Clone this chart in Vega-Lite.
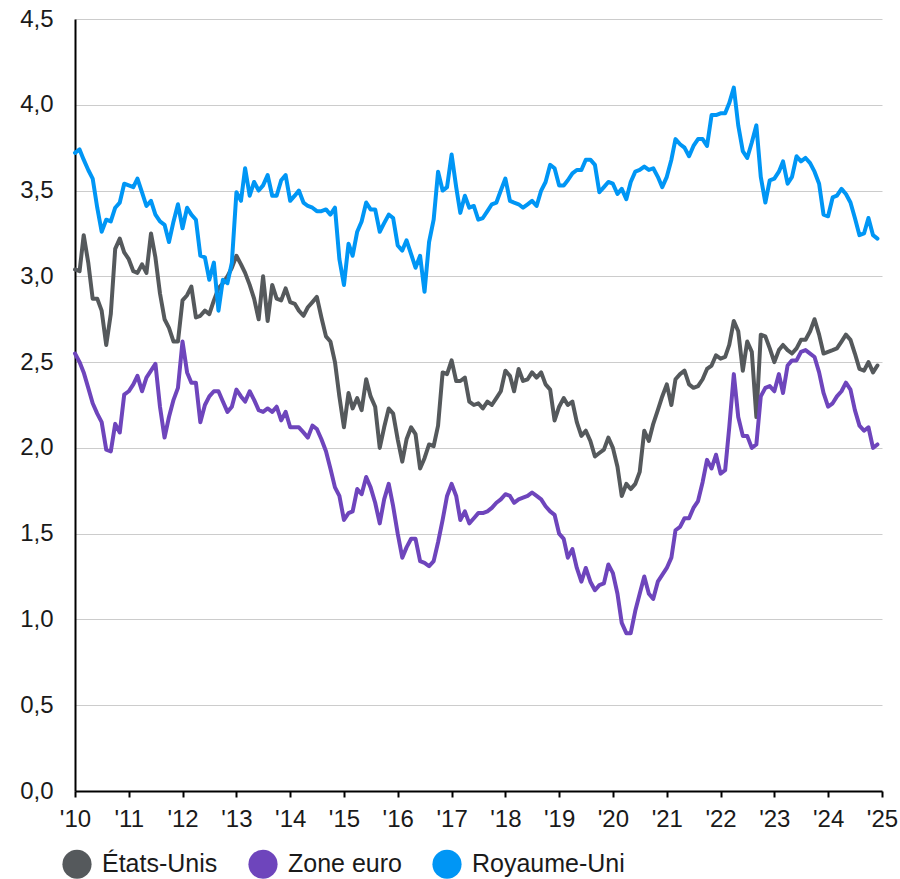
{
"$schema":"https://vega.github.io/schema/vega-lite/v6.json",
"width":807,"height":772,
"autosize":{"type":"none"},
"padding":{"left":75,"top":19,"right":18,"bottom":88},
"config":{"view":{"stroke":null},"font":"Liberation Sans"},
"data":{"values":[
{"d":"2010-01-01","p":"États-Unis","v":3.04},{"d":"2010-02-01","p":"États-Unis","v":3.03},{"d":"2010-03-01","p":"États-Unis","v":3.24},{"d":"2010-04-01","p":"États-Unis","v":3.08},{"d":"2010-05-01","p":"États-Unis","v":2.87},{"d":"2010-06-01","p":"États-Unis","v":2.87},{"d":"2010-07-01","p":"États-Unis","v":2.80},{"d":"2010-08-01","p":"États-Unis","v":2.60},{"d":"2010-09-01","p":"États-Unis","v":2.78},{"d":"2010-10-01","p":"États-Unis","v":3.16},{"d":"2010-11-01","p":"États-Unis","v":3.22},{"d":"2010-12-01","p":"États-Unis","v":3.14},
{"d":"2011-01-01","p":"États-Unis","v":3.10},{"d":"2011-02-01","p":"États-Unis","v":3.03},{"d":"2011-03-01","p":"États-Unis","v":3.02},{"d":"2011-04-01","p":"États-Unis","v":3.07},{"d":"2011-05-01","p":"États-Unis","v":3.02},{"d":"2011-06-01","p":"États-Unis","v":3.25},{"d":"2011-07-01","p":"États-Unis","v":3.11},{"d":"2011-08-01","p":"États-Unis","v":2.90},{"d":"2011-09-01","p":"États-Unis","v":2.75},{"d":"2011-10-01","p":"États-Unis","v":2.70},{"d":"2011-11-01","p":"États-Unis","v":2.62},{"d":"2011-12-01","p":"États-Unis","v":2.62},
{"d":"2012-01-01","p":"États-Unis","v":2.86},{"d":"2012-02-01","p":"États-Unis","v":2.89},{"d":"2012-03-01","p":"États-Unis","v":2.94},{"d":"2012-04-01","p":"États-Unis","v":2.76},{"d":"2012-05-01","p":"États-Unis","v":2.77},{"d":"2012-06-01","p":"États-Unis","v":2.80},{"d":"2012-07-01","p":"États-Unis","v":2.78},{"d":"2012-08-01","p":"États-Unis","v":2.86},{"d":"2012-09-01","p":"États-Unis","v":2.93},{"d":"2012-10-01","p":"États-Unis","v":2.96},{"d":"2012-11-01","p":"États-Unis","v":3.00},{"d":"2012-12-01","p":"États-Unis","v":3.05},
{"d":"2013-01-01","p":"États-Unis","v":3.12},{"d":"2013-02-01","p":"États-Unis","v":3.07},{"d":"2013-03-01","p":"États-Unis","v":3.02},{"d":"2013-04-01","p":"États-Unis","v":2.95},{"d":"2013-05-01","p":"États-Unis","v":2.87},{"d":"2013-06-01","p":"États-Unis","v":2.75},{"d":"2013-07-01","p":"États-Unis","v":3.00},{"d":"2013-08-01","p":"États-Unis","v":2.74},{"d":"2013-09-01","p":"États-Unis","v":2.95},{"d":"2013-10-01","p":"États-Unis","v":2.87},{"d":"2013-11-01","p":"États-Unis","v":2.86},{"d":"2013-12-01","p":"États-Unis","v":2.93},
{"d":"2014-01-01","p":"États-Unis","v":2.85},{"d":"2014-02-01","p":"États-Unis","v":2.84},{"d":"2014-03-01","p":"États-Unis","v":2.80},{"d":"2014-04-01","p":"États-Unis","v":2.77},{"d":"2014-05-01","p":"États-Unis","v":2.82},{"d":"2014-06-01","p":"États-Unis","v":2.85},{"d":"2014-07-01","p":"États-Unis","v":2.88},{"d":"2014-08-01","p":"États-Unis","v":2.76},{"d":"2014-09-01","p":"États-Unis","v":2.65},{"d":"2014-10-01","p":"États-Unis","v":2.62},{"d":"2014-11-01","p":"États-Unis","v":2.50},{"d":"2014-12-01","p":"États-Unis","v":2.30},
{"d":"2015-01-01","p":"États-Unis","v":2.12},{"d":"2015-02-01","p":"États-Unis","v":2.32},{"d":"2015-03-01","p":"États-Unis","v":2.23},{"d":"2015-04-01","p":"États-Unis","v":2.29},{"d":"2015-05-01","p":"États-Unis","v":2.22},{"d":"2015-06-01","p":"États-Unis","v":2.40},{"d":"2015-07-01","p":"États-Unis","v":2.30},{"d":"2015-08-01","p":"États-Unis","v":2.24},{"d":"2015-09-01","p":"États-Unis","v":2.00},{"d":"2015-10-01","p":"États-Unis","v":2.12},{"d":"2015-11-01","p":"États-Unis","v":2.23},{"d":"2015-12-01","p":"États-Unis","v":2.20},
{"d":"2016-01-01","p":"États-Unis","v":2.05},{"d":"2016-02-01","p":"États-Unis","v":1.92},{"d":"2016-03-01","p":"États-Unis","v":2.05},{"d":"2016-04-01","p":"États-Unis","v":2.12},{"d":"2016-05-01","p":"États-Unis","v":2.08},{"d":"2016-06-01","p":"États-Unis","v":1.88},{"d":"2016-07-01","p":"États-Unis","v":1.94},{"d":"2016-08-01","p":"États-Unis","v":2.02},{"d":"2016-09-01","p":"États-Unis","v":2.01},{"d":"2016-10-01","p":"États-Unis","v":2.13},{"d":"2016-11-01","p":"États-Unis","v":2.44},{"d":"2016-12-01","p":"États-Unis","v":2.43},
{"d":"2017-01-01","p":"États-Unis","v":2.51},{"d":"2017-02-01","p":"États-Unis","v":2.39},{"d":"2017-03-01","p":"États-Unis","v":2.39},{"d":"2017-04-01","p":"États-Unis","v":2.41},{"d":"2017-05-01","p":"États-Unis","v":2.27},{"d":"2017-06-01","p":"États-Unis","v":2.25},{"d":"2017-07-01","p":"États-Unis","v":2.26},{"d":"2017-08-01","p":"États-Unis","v":2.23},{"d":"2017-09-01","p":"États-Unis","v":2.27},{"d":"2017-10-01","p":"États-Unis","v":2.25},{"d":"2017-11-01","p":"États-Unis","v":2.29},{"d":"2017-12-01","p":"États-Unis","v":2.33},
{"d":"2018-01-01","p":"États-Unis","v":2.45},{"d":"2018-02-01","p":"États-Unis","v":2.42},{"d":"2018-03-01","p":"États-Unis","v":2.33},{"d":"2018-04-01","p":"États-Unis","v":2.46},{"d":"2018-05-01","p":"États-Unis","v":2.39},{"d":"2018-06-01","p":"États-Unis","v":2.40},{"d":"2018-07-01","p":"États-Unis","v":2.44},{"d":"2018-08-01","p":"États-Unis","v":2.41},{"d":"2018-09-01","p":"États-Unis","v":2.44},{"d":"2018-10-01","p":"États-Unis","v":2.37},{"d":"2018-11-01","p":"États-Unis","v":2.34},{"d":"2018-12-01","p":"États-Unis","v":2.16},
{"d":"2019-01-01","p":"États-Unis","v":2.24},{"d":"2019-02-01","p":"États-Unis","v":2.29},{"d":"2019-03-01","p":"États-Unis","v":2.25},{"d":"2019-04-01","p":"États-Unis","v":2.27},{"d":"2019-05-01","p":"États-Unis","v":2.15},{"d":"2019-06-01","p":"États-Unis","v":2.07},{"d":"2019-07-01","p":"États-Unis","v":2.10},{"d":"2019-08-01","p":"États-Unis","v":2.04},{"d":"2019-09-01","p":"États-Unis","v":1.95},{"d":"2019-10-01","p":"États-Unis","v":1.97},{"d":"2019-11-01","p":"États-Unis","v":1.99},{"d":"2019-12-01","p":"États-Unis","v":2.06},
{"d":"2020-01-01","p":"États-Unis","v":2.00},{"d":"2020-02-01","p":"États-Unis","v":1.89},{"d":"2020-03-01","p":"États-Unis","v":1.72},{"d":"2020-04-01","p":"États-Unis","v":1.79},{"d":"2020-05-01","p":"États-Unis","v":1.76},{"d":"2020-06-01","p":"États-Unis","v":1.79},{"d":"2020-07-01","p":"États-Unis","v":1.86},{"d":"2020-08-01","p":"États-Unis","v":2.10},{"d":"2020-09-01","p":"États-Unis","v":2.04},{"d":"2020-10-01","p":"États-Unis","v":2.14},{"d":"2020-11-01","p":"États-Unis","v":2.22},{"d":"2020-12-01","p":"États-Unis","v":2.30},
{"d":"2021-01-01","p":"États-Unis","v":2.37},{"d":"2021-02-01","p":"États-Unis","v":2.25},{"d":"2021-03-01","p":"États-Unis","v":2.40},{"d":"2021-04-01","p":"États-Unis","v":2.43},{"d":"2021-05-01","p":"États-Unis","v":2.45},{"d":"2021-06-01","p":"États-Unis","v":2.37},{"d":"2021-07-01","p":"États-Unis","v":2.35},{"d":"2021-08-01","p":"États-Unis","v":2.36},{"d":"2021-09-01","p":"États-Unis","v":2.40},{"d":"2021-10-01","p":"États-Unis","v":2.46},{"d":"2021-11-01","p":"États-Unis","v":2.48},{"d":"2021-12-01","p":"États-Unis","v":2.54},
{"d":"2022-01-01","p":"États-Unis","v":2.52},{"d":"2022-02-01","p":"États-Unis","v":2.53},{"d":"2022-03-01","p":"États-Unis","v":2.60},{"d":"2022-04-01","p":"États-Unis","v":2.74},{"d":"2022-05-01","p":"États-Unis","v":2.68},{"d":"2022-06-01","p":"États-Unis","v":2.45},{"d":"2022-07-01","p":"États-Unis","v":2.62},{"d":"2022-08-01","p":"États-Unis","v":2.56},{"d":"2022-09-01","p":"États-Unis","v":2.18},{"d":"2022-10-01","p":"États-Unis","v":2.66},{"d":"2022-11-01","p":"États-Unis","v":2.65},{"d":"2022-12-01","p":"États-Unis","v":2.58},
{"d":"2023-01-01","p":"États-Unis","v":2.50},{"d":"2023-02-01","p":"États-Unis","v":2.57},{"d":"2023-03-01","p":"États-Unis","v":2.60},{"d":"2023-04-01","p":"États-Unis","v":2.57},{"d":"2023-05-01","p":"États-Unis","v":2.55},{"d":"2023-06-01","p":"États-Unis","v":2.58},{"d":"2023-07-01","p":"États-Unis","v":2.63},{"d":"2023-08-01","p":"États-Unis","v":2.63},{"d":"2023-09-01","p":"États-Unis","v":2.68},{"d":"2023-10-01","p":"États-Unis","v":2.75},{"d":"2023-11-01","p":"États-Unis","v":2.66},{"d":"2023-12-01","p":"États-Unis","v":2.55},
{"d":"2024-01-01","p":"États-Unis","v":2.56},{"d":"2024-02-01","p":"États-Unis","v":2.57},{"d":"2024-03-01","p":"États-Unis","v":2.58},{"d":"2024-04-01","p":"États-Unis","v":2.62},{"d":"2024-05-01","p":"États-Unis","v":2.66},{"d":"2024-06-01","p":"États-Unis","v":2.63},{"d":"2024-07-01","p":"États-Unis","v":2.55},{"d":"2024-08-01","p":"États-Unis","v":2.46},{"d":"2024-09-01","p":"États-Unis","v":2.45},{"d":"2024-10-01","p":"États-Unis","v":2.50},{"d":"2024-11-01","p":"États-Unis","v":2.44},{"d":"2024-12-01","p":"États-Unis","v":2.48},
{"d":"2010-01-01","p":"Zone euro","v":2.55},{"d":"2010-02-01","p":"Zone euro","v":2.50},{"d":"2010-03-01","p":"Zone euro","v":2.44},{"d":"2010-04-01","p":"Zone euro","v":2.35},{"d":"2010-05-01","p":"Zone euro","v":2.26},{"d":"2010-06-01","p":"Zone euro","v":2.20},{"d":"2010-07-01","p":"Zone euro","v":2.15},{"d":"2010-08-01","p":"Zone euro","v":1.99},{"d":"2010-09-01","p":"Zone euro","v":1.98},{"d":"2010-10-01","p":"Zone euro","v":2.14},{"d":"2010-11-01","p":"Zone euro","v":2.09},{"d":"2010-12-01","p":"Zone euro","v":2.31},
{"d":"2011-01-01","p":"Zone euro","v":2.33},{"d":"2011-02-01","p":"Zone euro","v":2.37},{"d":"2011-03-01","p":"Zone euro","v":2.42},{"d":"2011-04-01","p":"Zone euro","v":2.33},{"d":"2011-05-01","p":"Zone euro","v":2.41},{"d":"2011-06-01","p":"Zone euro","v":2.45},{"d":"2011-07-01","p":"Zone euro","v":2.49},{"d":"2011-08-01","p":"Zone euro","v":2.24},{"d":"2011-09-01","p":"Zone euro","v":2.06},{"d":"2011-10-01","p":"Zone euro","v":2.18},{"d":"2011-11-01","p":"Zone euro","v":2.28},{"d":"2011-12-01","p":"Zone euro","v":2.35},
{"d":"2012-01-01","p":"Zone euro","v":2.62},{"d":"2012-02-01","p":"Zone euro","v":2.44},{"d":"2012-03-01","p":"Zone euro","v":2.38},{"d":"2012-04-01","p":"Zone euro","v":2.38},{"d":"2012-05-01","p":"Zone euro","v":2.15},{"d":"2012-06-01","p":"Zone euro","v":2.25},{"d":"2012-07-01","p":"Zone euro","v":2.30},{"d":"2012-08-01","p":"Zone euro","v":2.33},{"d":"2012-09-01","p":"Zone euro","v":2.33},{"d":"2012-10-01","p":"Zone euro","v":2.27},{"d":"2012-11-01","p":"Zone euro","v":2.21},{"d":"2012-12-01","p":"Zone euro","v":2.24},
{"d":"2013-01-01","p":"Zone euro","v":2.34},{"d":"2013-02-01","p":"Zone euro","v":2.30},{"d":"2013-03-01","p":"Zone euro","v":2.27},{"d":"2013-04-01","p":"Zone euro","v":2.33},{"d":"2013-05-01","p":"Zone euro","v":2.28},{"d":"2013-06-01","p":"Zone euro","v":2.22},{"d":"2013-07-01","p":"Zone euro","v":2.21},{"d":"2013-08-01","p":"Zone euro","v":2.23},{"d":"2013-09-01","p":"Zone euro","v":2.21},{"d":"2013-10-01","p":"Zone euro","v":2.24},{"d":"2013-11-01","p":"Zone euro","v":2.16},{"d":"2013-12-01","p":"Zone euro","v":2.21},
{"d":"2014-01-01","p":"Zone euro","v":2.12},{"d":"2014-02-01","p":"Zone euro","v":2.12},{"d":"2014-03-01","p":"Zone euro","v":2.12},{"d":"2014-04-01","p":"Zone euro","v":2.09},{"d":"2014-05-01","p":"Zone euro","v":2.06},{"d":"2014-06-01","p":"Zone euro","v":2.13},{"d":"2014-07-01","p":"Zone euro","v":2.11},{"d":"2014-08-01","p":"Zone euro","v":2.05},{"d":"2014-09-01","p":"Zone euro","v":1.98},{"d":"2014-10-01","p":"Zone euro","v":1.88},{"d":"2014-11-01","p":"Zone euro","v":1.77},{"d":"2014-12-01","p":"Zone euro","v":1.72},
{"d":"2015-01-01","p":"Zone euro","v":1.58},{"d":"2015-02-01","p":"Zone euro","v":1.62},{"d":"2015-03-01","p":"Zone euro","v":1.63},{"d":"2015-04-01","p":"Zone euro","v":1.76},{"d":"2015-05-01","p":"Zone euro","v":1.73},{"d":"2015-06-01","p":"Zone euro","v":1.83},{"d":"2015-07-01","p":"Zone euro","v":1.77},{"d":"2015-08-01","p":"Zone euro","v":1.68},{"d":"2015-09-01","p":"Zone euro","v":1.56},{"d":"2015-10-01","p":"Zone euro","v":1.70},{"d":"2015-11-01","p":"Zone euro","v":1.79},{"d":"2015-12-01","p":"Zone euro","v":1.66},
{"d":"2016-01-01","p":"Zone euro","v":1.50},{"d":"2016-02-01","p":"Zone euro","v":1.36},{"d":"2016-03-01","p":"Zone euro","v":1.42},{"d":"2016-04-01","p":"Zone euro","v":1.47},{"d":"2016-05-01","p":"Zone euro","v":1.47},{"d":"2016-06-01","p":"Zone euro","v":1.34},{"d":"2016-07-01","p":"Zone euro","v":1.33},{"d":"2016-08-01","p":"Zone euro","v":1.31},{"d":"2016-09-01","p":"Zone euro","v":1.34},{"d":"2016-10-01","p":"Zone euro","v":1.45},{"d":"2016-11-01","p":"Zone euro","v":1.58},{"d":"2016-12-01","p":"Zone euro","v":1.72},
{"d":"2017-01-01","p":"Zone euro","v":1.79},{"d":"2017-02-01","p":"Zone euro","v":1.72},{"d":"2017-03-01","p":"Zone euro","v":1.58},{"d":"2017-04-01","p":"Zone euro","v":1.63},{"d":"2017-05-01","p":"Zone euro","v":1.56},{"d":"2017-06-01","p":"Zone euro","v":1.59},{"d":"2017-07-01","p":"Zone euro","v":1.62},{"d":"2017-08-01","p":"Zone euro","v":1.62},{"d":"2017-09-01","p":"Zone euro","v":1.63},{"d":"2017-10-01","p":"Zone euro","v":1.65},{"d":"2017-11-01","p":"Zone euro","v":1.68},{"d":"2017-12-01","p":"Zone euro","v":1.70},
{"d":"2018-01-01","p":"Zone euro","v":1.73},{"d":"2018-02-01","p":"Zone euro","v":1.72},{"d":"2018-03-01","p":"Zone euro","v":1.68},{"d":"2018-04-01","p":"Zone euro","v":1.70},{"d":"2018-05-01","p":"Zone euro","v":1.71},{"d":"2018-06-01","p":"Zone euro","v":1.72},{"d":"2018-07-01","p":"Zone euro","v":1.74},{"d":"2018-08-01","p":"Zone euro","v":1.72},{"d":"2018-09-01","p":"Zone euro","v":1.70},{"d":"2018-10-01","p":"Zone euro","v":1.66},{"d":"2018-11-01","p":"Zone euro","v":1.63},{"d":"2018-12-01","p":"Zone euro","v":1.61},
{"d":"2019-01-01","p":"Zone euro","v":1.50},{"d":"2019-02-01","p":"Zone euro","v":1.47},{"d":"2019-03-01","p":"Zone euro","v":1.36},{"d":"2019-04-01","p":"Zone euro","v":1.41},{"d":"2019-05-01","p":"Zone euro","v":1.30},{"d":"2019-06-01","p":"Zone euro","v":1.22},{"d":"2019-07-01","p":"Zone euro","v":1.30},{"d":"2019-08-01","p":"Zone euro","v":1.22},{"d":"2019-09-01","p":"Zone euro","v":1.17},{"d":"2019-10-01","p":"Zone euro","v":1.20},{"d":"2019-11-01","p":"Zone euro","v":1.21},{"d":"2019-12-01","p":"Zone euro","v":1.32},
{"d":"2020-01-01","p":"Zone euro","v":1.27},{"d":"2020-02-01","p":"Zone euro","v":1.15},{"d":"2020-03-01","p":"Zone euro","v":0.98},{"d":"2020-04-01","p":"Zone euro","v":0.92},{"d":"2020-05-01","p":"Zone euro","v":0.92},{"d":"2020-06-01","p":"Zone euro","v":1.05},{"d":"2020-07-01","p":"Zone euro","v":1.15},{"d":"2020-08-01","p":"Zone euro","v":1.25},{"d":"2020-09-01","p":"Zone euro","v":1.15},{"d":"2020-10-01","p":"Zone euro","v":1.12},{"d":"2020-11-01","p":"Zone euro","v":1.22},{"d":"2020-12-01","p":"Zone euro","v":1.26},
{"d":"2021-01-01","p":"Zone euro","v":1.30},{"d":"2021-02-01","p":"Zone euro","v":1.36},{"d":"2021-03-01","p":"Zone euro","v":1.52},{"d":"2021-04-01","p":"Zone euro","v":1.54},{"d":"2021-05-01","p":"Zone euro","v":1.59},{"d":"2021-06-01","p":"Zone euro","v":1.59},{"d":"2021-07-01","p":"Zone euro","v":1.65},{"d":"2021-08-01","p":"Zone euro","v":1.69},{"d":"2021-09-01","p":"Zone euro","v":1.80},{"d":"2021-10-01","p":"Zone euro","v":1.93},{"d":"2021-11-01","p":"Zone euro","v":1.88},{"d":"2021-12-01","p":"Zone euro","v":1.96},
{"d":"2022-01-01","p":"Zone euro","v":1.85},{"d":"2022-02-01","p":"Zone euro","v":1.87},{"d":"2022-03-01","p":"Zone euro","v":2.12},{"d":"2022-04-01","p":"Zone euro","v":2.43},{"d":"2022-05-01","p":"Zone euro","v":2.18},{"d":"2022-06-01","p":"Zone euro","v":2.07},{"d":"2022-07-01","p":"Zone euro","v":2.07},{"d":"2022-08-01","p":"Zone euro","v":2.00},{"d":"2022-09-01","p":"Zone euro","v":2.02},{"d":"2022-10-01","p":"Zone euro","v":2.30},{"d":"2022-11-01","p":"Zone euro","v":2.35},{"d":"2022-12-01","p":"Zone euro","v":2.36},
{"d":"2023-01-01","p":"Zone euro","v":2.33},{"d":"2023-02-01","p":"Zone euro","v":2.43},{"d":"2023-03-01","p":"Zone euro","v":2.32},{"d":"2023-04-01","p":"Zone euro","v":2.48},{"d":"2023-05-01","p":"Zone euro","v":2.51},{"d":"2023-06-01","p":"Zone euro","v":2.51},{"d":"2023-07-01","p":"Zone euro","v":2.56},{"d":"2023-08-01","p":"Zone euro","v":2.57},{"d":"2023-09-01","p":"Zone euro","v":2.55},{"d":"2023-10-01","p":"Zone euro","v":2.53},{"d":"2023-11-01","p":"Zone euro","v":2.44},{"d":"2023-12-01","p":"Zone euro","v":2.32},
{"d":"2024-01-01","p":"Zone euro","v":2.24},{"d":"2024-02-01","p":"Zone euro","v":2.26},{"d":"2024-03-01","p":"Zone euro","v":2.30},{"d":"2024-04-01","p":"Zone euro","v":2.33},{"d":"2024-05-01","p":"Zone euro","v":2.38},{"d":"2024-06-01","p":"Zone euro","v":2.34},{"d":"2024-07-01","p":"Zone euro","v":2.22},{"d":"2024-08-01","p":"Zone euro","v":2.13},{"d":"2024-09-01","p":"Zone euro","v":2.10},{"d":"2024-10-01","p":"Zone euro","v":2.12},{"d":"2024-11-01","p":"Zone euro","v":2.00},{"d":"2024-12-01","p":"Zone euro","v":2.02},
{"d":"2010-01-01","p":"Royaume-Uni","v":3.72},{"d":"2010-02-01","p":"Royaume-Uni","v":3.74},{"d":"2010-03-01","p":"Royaume-Uni","v":3.68},{"d":"2010-04-01","p":"Royaume-Uni","v":3.62},{"d":"2010-05-01","p":"Royaume-Uni","v":3.57},{"d":"2010-06-01","p":"Royaume-Uni","v":3.40},{"d":"2010-07-01","p":"Royaume-Uni","v":3.26},{"d":"2010-08-01","p":"Royaume-Uni","v":3.33},{"d":"2010-09-01","p":"Royaume-Uni","v":3.32},{"d":"2010-10-01","p":"Royaume-Uni","v":3.40},{"d":"2010-11-01","p":"Royaume-Uni","v":3.43},{"d":"2010-12-01","p":"Royaume-Uni","v":3.54},
{"d":"2011-01-01","p":"Royaume-Uni","v":3.53},{"d":"2011-02-01","p":"Royaume-Uni","v":3.52},{"d":"2011-03-01","p":"Royaume-Uni","v":3.57},{"d":"2011-04-01","p":"Royaume-Uni","v":3.49},{"d":"2011-05-01","p":"Royaume-Uni","v":3.41},{"d":"2011-06-01","p":"Royaume-Uni","v":3.44},{"d":"2011-07-01","p":"Royaume-Uni","v":3.36},{"d":"2011-08-01","p":"Royaume-Uni","v":3.32},{"d":"2011-09-01","p":"Royaume-Uni","v":3.30},{"d":"2011-10-01","p":"Royaume-Uni","v":3.20},{"d":"2011-11-01","p":"Royaume-Uni","v":3.32},{"d":"2011-12-01","p":"Royaume-Uni","v":3.42},
{"d":"2012-01-01","p":"Royaume-Uni","v":3.28},{"d":"2012-02-01","p":"Royaume-Uni","v":3.40},{"d":"2012-03-01","p":"Royaume-Uni","v":3.36},{"d":"2012-04-01","p":"Royaume-Uni","v":3.33},{"d":"2012-05-01","p":"Royaume-Uni","v":3.12},{"d":"2012-06-01","p":"Royaume-Uni","v":3.11},{"d":"2012-07-01","p":"Royaume-Uni","v":2.98},{"d":"2012-08-01","p":"Royaume-Uni","v":3.08},{"d":"2012-09-01","p":"Royaume-Uni","v":2.80},{"d":"2012-10-01","p":"Royaume-Uni","v":2.98},{"d":"2012-11-01","p":"Royaume-Uni","v":2.96},{"d":"2012-12-01","p":"Royaume-Uni","v":3.08},
{"d":"2013-01-01","p":"Royaume-Uni","v":3.49},{"d":"2013-02-01","p":"Royaume-Uni","v":3.44},{"d":"2013-03-01","p":"Royaume-Uni","v":3.63},{"d":"2013-04-01","p":"Royaume-Uni","v":3.47},{"d":"2013-05-01","p":"Royaume-Uni","v":3.55},{"d":"2013-06-01","p":"Royaume-Uni","v":3.50},{"d":"2013-07-01","p":"Royaume-Uni","v":3.53},{"d":"2013-08-01","p":"Royaume-Uni","v":3.59},{"d":"2013-09-01","p":"Royaume-Uni","v":3.47},{"d":"2013-10-01","p":"Royaume-Uni","v":3.47},{"d":"2013-11-01","p":"Royaume-Uni","v":3.56},{"d":"2013-12-01","p":"Royaume-Uni","v":3.59},
{"d":"2014-01-01","p":"Royaume-Uni","v":3.44},{"d":"2014-02-01","p":"Royaume-Uni","v":3.47},{"d":"2014-03-01","p":"Royaume-Uni","v":3.50},{"d":"2014-04-01","p":"Royaume-Uni","v":3.43},{"d":"2014-05-01","p":"Royaume-Uni","v":3.41},{"d":"2014-06-01","p":"Royaume-Uni","v":3.40},{"d":"2014-07-01","p":"Royaume-Uni","v":3.38},{"d":"2014-08-01","p":"Royaume-Uni","v":3.38},{"d":"2014-09-01","p":"Royaume-Uni","v":3.39},{"d":"2014-10-01","p":"Royaume-Uni","v":3.36},{"d":"2014-11-01","p":"Royaume-Uni","v":3.40},{"d":"2014-12-01","p":"Royaume-Uni","v":3.10},
{"d":"2015-01-01","p":"Royaume-Uni","v":2.95},{"d":"2015-02-01","p":"Royaume-Uni","v":3.19},{"d":"2015-03-01","p":"Royaume-Uni","v":3.12},{"d":"2015-04-01","p":"Royaume-Uni","v":3.26},{"d":"2015-05-01","p":"Royaume-Uni","v":3.32},{"d":"2015-06-01","p":"Royaume-Uni","v":3.43},{"d":"2015-07-01","p":"Royaume-Uni","v":3.39},{"d":"2015-08-01","p":"Royaume-Uni","v":3.39},{"d":"2015-09-01","p":"Royaume-Uni","v":3.26},{"d":"2015-10-01","p":"Royaume-Uni","v":3.31},{"d":"2015-11-01","p":"Royaume-Uni","v":3.36},{"d":"2015-12-01","p":"Royaume-Uni","v":3.34},
{"d":"2016-01-01","p":"Royaume-Uni","v":3.18},{"d":"2016-02-01","p":"Royaume-Uni","v":3.15},{"d":"2016-03-01","p":"Royaume-Uni","v":3.21},{"d":"2016-04-01","p":"Royaume-Uni","v":3.13},{"d":"2016-05-01","p":"Royaume-Uni","v":3.05},{"d":"2016-06-01","p":"Royaume-Uni","v":3.12},{"d":"2016-07-01","p":"Royaume-Uni","v":2.91},{"d":"2016-08-01","p":"Royaume-Uni","v":3.20},{"d":"2016-09-01","p":"Royaume-Uni","v":3.33},{"d":"2016-10-01","p":"Royaume-Uni","v":3.61},{"d":"2016-11-01","p":"Royaume-Uni","v":3.50},{"d":"2016-12-01","p":"Royaume-Uni","v":3.52},
{"d":"2017-01-01","p":"Royaume-Uni","v":3.71},{"d":"2017-02-01","p":"Royaume-Uni","v":3.52},{"d":"2017-03-01","p":"Royaume-Uni","v":3.37},{"d":"2017-04-01","p":"Royaume-Uni","v":3.47},{"d":"2017-05-01","p":"Royaume-Uni","v":3.40},{"d":"2017-06-01","p":"Royaume-Uni","v":3.41},{"d":"2017-07-01","p":"Royaume-Uni","v":3.33},{"d":"2017-08-01","p":"Royaume-Uni","v":3.34},{"d":"2017-09-01","p":"Royaume-Uni","v":3.38},{"d":"2017-10-01","p":"Royaume-Uni","v":3.42},{"d":"2017-11-01","p":"Royaume-Uni","v":3.43},{"d":"2017-12-01","p":"Royaume-Uni","v":3.50},
{"d":"2018-01-01","p":"Royaume-Uni","v":3.57},{"d":"2018-02-01","p":"Royaume-Uni","v":3.44},{"d":"2018-03-01","p":"Royaume-Uni","v":3.43},{"d":"2018-04-01","p":"Royaume-Uni","v":3.42},{"d":"2018-05-01","p":"Royaume-Uni","v":3.40},{"d":"2018-06-01","p":"Royaume-Uni","v":3.42},{"d":"2018-07-01","p":"Royaume-Uni","v":3.44},{"d":"2018-08-01","p":"Royaume-Uni","v":3.41},{"d":"2018-09-01","p":"Royaume-Uni","v":3.50},{"d":"2018-10-01","p":"Royaume-Uni","v":3.55},{"d":"2018-11-01","p":"Royaume-Uni","v":3.65},{"d":"2018-12-01","p":"Royaume-Uni","v":3.63},
{"d":"2019-01-01","p":"Royaume-Uni","v":3.53},{"d":"2019-02-01","p":"Royaume-Uni","v":3.53},{"d":"2019-03-01","p":"Royaume-Uni","v":3.56},{"d":"2019-04-01","p":"Royaume-Uni","v":3.60},{"d":"2019-05-01","p":"Royaume-Uni","v":3.62},{"d":"2019-06-01","p":"Royaume-Uni","v":3.62},{"d":"2019-07-01","p":"Royaume-Uni","v":3.68},{"d":"2019-08-01","p":"Royaume-Uni","v":3.68},{"d":"2019-09-01","p":"Royaume-Uni","v":3.65},{"d":"2019-10-01","p":"Royaume-Uni","v":3.49},{"d":"2019-11-01","p":"Royaume-Uni","v":3.52},{"d":"2019-12-01","p":"Royaume-Uni","v":3.55},
{"d":"2020-01-01","p":"Royaume-Uni","v":3.54},{"d":"2020-02-01","p":"Royaume-Uni","v":3.48},{"d":"2020-03-01","p":"Royaume-Uni","v":3.51},{"d":"2020-04-01","p":"Royaume-Uni","v":3.45},{"d":"2020-05-01","p":"Royaume-Uni","v":3.55},{"d":"2020-06-01","p":"Royaume-Uni","v":3.61},{"d":"2020-07-01","p":"Royaume-Uni","v":3.62},{"d":"2020-08-01","p":"Royaume-Uni","v":3.64},{"d":"2020-09-01","p":"Royaume-Uni","v":3.62},{"d":"2020-10-01","p":"Royaume-Uni","v":3.63},{"d":"2020-11-01","p":"Royaume-Uni","v":3.58},{"d":"2020-12-01","p":"Royaume-Uni","v":3.52},
{"d":"2021-01-01","p":"Royaume-Uni","v":3.58},{"d":"2021-02-01","p":"Royaume-Uni","v":3.68},{"d":"2021-03-01","p":"Royaume-Uni","v":3.80},{"d":"2021-04-01","p":"Royaume-Uni","v":3.77},{"d":"2021-05-01","p":"Royaume-Uni","v":3.75},{"d":"2021-06-01","p":"Royaume-Uni","v":3.70},{"d":"2021-07-01","p":"Royaume-Uni","v":3.76},{"d":"2021-08-01","p":"Royaume-Uni","v":3.80},{"d":"2021-09-01","p":"Royaume-Uni","v":3.80},{"d":"2021-10-01","p":"Royaume-Uni","v":3.76},{"d":"2021-11-01","p":"Royaume-Uni","v":3.94},{"d":"2021-12-01","p":"Royaume-Uni","v":3.94},
{"d":"2022-01-01","p":"Royaume-Uni","v":3.95},{"d":"2022-02-01","p":"Royaume-Uni","v":3.95},{"d":"2022-03-01","p":"Royaume-Uni","v":4.01},{"d":"2022-04-01","p":"Royaume-Uni","v":4.10},{"d":"2022-05-01","p":"Royaume-Uni","v":3.88},{"d":"2022-06-01","p":"Royaume-Uni","v":3.73},{"d":"2022-07-01","p":"Royaume-Uni","v":3.69},{"d":"2022-08-01","p":"Royaume-Uni","v":3.78},{"d":"2022-09-01","p":"Royaume-Uni","v":3.88},{"d":"2022-10-01","p":"Royaume-Uni","v":3.58},{"d":"2022-11-01","p":"Royaume-Uni","v":3.43},{"d":"2022-12-01","p":"Royaume-Uni","v":3.56},
{"d":"2023-01-01","p":"Royaume-Uni","v":3.57},{"d":"2023-02-01","p":"Royaume-Uni","v":3.61},{"d":"2023-03-01","p":"Royaume-Uni","v":3.67},{"d":"2023-04-01","p":"Royaume-Uni","v":3.54},{"d":"2023-05-01","p":"Royaume-Uni","v":3.58},{"d":"2023-06-01","p":"Royaume-Uni","v":3.70},{"d":"2023-07-01","p":"Royaume-Uni","v":3.67},{"d":"2023-08-01","p":"Royaume-Uni","v":3.69},{"d":"2023-09-01","p":"Royaume-Uni","v":3.66},{"d":"2023-10-01","p":"Royaume-Uni","v":3.61},{"d":"2023-11-01","p":"Royaume-Uni","v":3.54},{"d":"2023-12-01","p":"Royaume-Uni","v":3.36},
{"d":"2024-01-01","p":"Royaume-Uni","v":3.35},{"d":"2024-02-01","p":"Royaume-Uni","v":3.46},{"d":"2024-03-01","p":"Royaume-Uni","v":3.47},{"d":"2024-04-01","p":"Royaume-Uni","v":3.51},{"d":"2024-05-01","p":"Royaume-Uni","v":3.48},{"d":"2024-06-01","p":"Royaume-Uni","v":3.43},{"d":"2024-07-01","p":"Royaume-Uni","v":3.34},{"d":"2024-08-01","p":"Royaume-Uni","v":3.24},{"d":"2024-09-01","p":"Royaume-Uni","v":3.25},{"d":"2024-10-01","p":"Royaume-Uni","v":3.34},{"d":"2024-11-01","p":"Royaume-Uni","v":3.24},{"d":"2024-12-01","p":"Royaume-Uni","v":3.22}
]},
"mark":{"type":"line","strokeWidth":4,"strokeJoin":"round","strokeCap":"round"},
"encoding":{
"x":{"field":"d","type":"temporal","title":null,
"scale":{"type":"utc","domain":[{"year":2010,"month":1,"date":1,"utc":true},{"year":2025,"month":1,"date":1,"utc":true}]},
"axis":{"format":"'%y","tickCount":{"interval":"year","step":1},"grid":false,"domainColor":"#000000","domainWidth":2,"tickColor":"#000000","tickWidth":2,"tickSize":6,"labelFontSize":24,"labelColor":"#1a1a1a","labelPadding":10,"labelFont":"Liberation Sans","labelFlush":false,"labelOverlap":false}},
"y":{"field":"v","type":"quantitative","title":null,
"scale":{"domain":[0,4.5],"nice":false,"zero":true},
"axis":{"values":[0,0.5,1,1.5,2,2.5,3,3.5,4,4.5],"labelExpr":"replace(format(datum.value,'.1f'),'.',',')","grid":true,"gridColor":"#cccccc","gridWidth":1,"ticks":false,"tickSize":0,"domainColor":"#000000","domainWidth":2,"labelFontSize":24,"labelColor":"#1a1a1a","labelPadding":22,"labelFont":"Liberation Sans"}},
"color":{"field":"p","type":"nominal","title":null,
"scale":{"domain":["États-Unis","Zone euro","Royaume-Uni"],"range":["#55595c","#6e45bc","#0096f5"]},
"legend":{"orient":"none","legendX":-13,"legendY":830,"direction":"horizontal","symbolType":"circle","symbolSize":850,"symbolStrokeWidth":0,"labelFontSize":25,"labelFont":"Liberation Sans","labelColor":"#1a1a1a","labelOffset":10,"columnPadding":30,"padding":0,
"encode":{"symbols":{"update":{"fill":{"scale":"color","field":"value"},"strokeWidth":{"value":0}}}}}}
}
}
